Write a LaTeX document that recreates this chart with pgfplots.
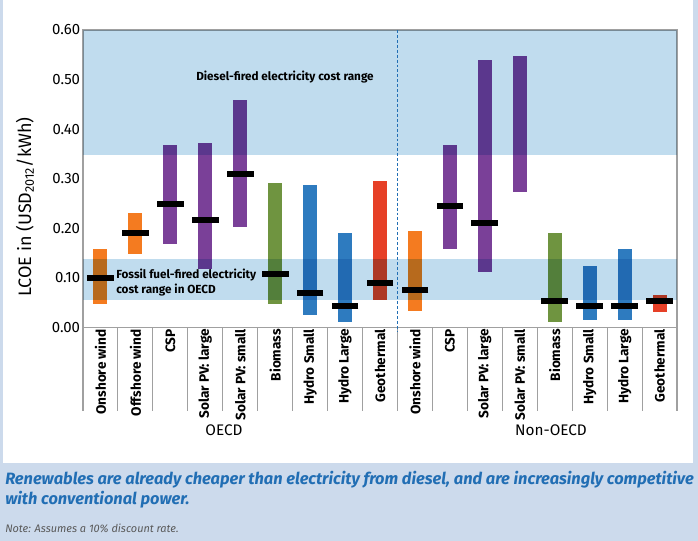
\documentclass[border=0pt]{standalone}
\usepackage{pgfplots}
\pgfplotsset{compat=1.18}
\usepackage{pgfplotstable}
\usepackage{fontspec}
\setmainfont{Fira Sans}
\definecolor{outerbg}{RGB}{204,218,236}
\definecolor{band}{RGB}{192,220,238}
\definecolor{corange}{RGB}{244,123,32}
\definecolor{cpurple}{RGB}{122,64,152}
\definecolor{cgreen}{RGB}{111,148,64}
\definecolor{cblue}{RGB}{46,123,191}
\definecolor{cred}{RGB}{230,64,39}
\definecolor{capblue}{RGB}{33,110,180}
\definecolor{framegray}{RGB}{160,160,160}

\pgfplotstableread{
x lo hi med
0 0.048 0.158 0.099
1 0.148 0.232 0.190
9 0.034 0.195 0.075
}\orangetab
\pgfplotstableread{
x lo hi med
2 0.168 0.368 0.249
3 0.118 0.372 0.216
4 0.203 0.459 0.310
10 0.158 0.368 0.246
11 0.112 0.540 0.210
12 0.273 0.548 nan
}\purpletab
\pgfplotstableread{
x lo hi med
5 0.048 0.291 0.109
13 0.011 0.191 0.053
}\greentab
\pgfplotstableread{
x lo hi med
6 0.025 0.287 0.070
7 0.012 0.191 0.044
14 0.015 0.124 0.044
15 0.016 0.158 0.044
}\bluetab
\pgfplotstableread{
x lo hi med
8 0.056 0.296 0.090
16 0.031 0.066 0.053
}\redtab

\pgfplotsset{
  rangebar/.style={draw=none, mark=none, error bars/.cd, y dir=both, y explicit, error mark=none,
    error bar style={draw=#1, line width=10.5pt}},
  medmark/.style={only marks, mark=-, mark size=10pt, mark options={line width=4.5pt, black, draw=black}},
}

\begin{document}
\begin{tikzpicture}[x=0.75pt,y=0.75pt]
\useasboundingbox (0,0) rectangle (698,541);
\fill[outerbg] (0,0) rectangle (698,541);
\fill[white] (3,78) rectangle (693,541);
\begin{axis}[
  at={(62.25pt,160.05pt)}, anchor=south west,
  scale only axis, width=445.5pt, height=223.2pt,
  xmin=-0.5, xmax=16.5, ymin=0, ymax=0.6,
  clip=false,
  axis line style={framegray, line width=0.8pt},
  tick pos=left,
  xtick={0,...,16},
  xticklabels={Onshore wind,Offshore wind,CSP,Solar PV: large,Solar PV: small,Biomass,Hydro Small,Hydro Large,Geothermal,Onshore wind,CSP,Solar PV: large,Solar PV: small,Biomass,Hydro Small,Hydro Large,Geothermal},
  xticklabel style={rotate=90, anchor=east, font=\fontsize{10.2}{12}\selectfont\bfseries, inner sep=1pt, yshift=0pt},
  major tick length=0pt,
  extra x ticks={-0.5,0.5,...,16.5},
  extra x tick labels={},
  extra x tick style={major tick length=62.5pt, tick align=outside, tick style={framegray, line width=0.8pt}},
  ytick={0,0.1,0.2,0.3,0.4,0.5,0.6},
  /pgf/number format/fixed,
  /pgf/number format/fixed zerofill,
  /pgf/number format/precision=2,
  /pgf/number format/assume math mode=true,
  yticklabel style={font=\fontsize{11.2}{13}\selectfont, inner sep=2pt},
]
% bars
\addplot[rangebar=corange] table[x=x, y expr=(\thisrow{lo}+\thisrow{hi})/2, y error expr=(\thisrow{hi}-\thisrow{lo})/2] {\orangetab};
\addplot[rangebar=cpurple] table[x=x, y expr=(\thisrow{lo}+\thisrow{hi})/2, y error expr=(\thisrow{hi}-\thisrow{lo})/2] {\purpletab};
\addplot[rangebar=cgreen] table[x=x, y expr=(\thisrow{lo}+\thisrow{hi})/2, y error expr=(\thisrow{hi}-\thisrow{lo})/2] {\greentab};
\addplot[rangebar=cblue] table[x=x, y expr=(\thisrow{lo}+\thisrow{hi})/2, y error expr=(\thisrow{hi}-\thisrow{lo})/2] {\bluetab};
\addplot[rangebar=cred] table[x=x, y expr=(\thisrow{lo}+\thisrow{hi})/2, y error expr=(\thisrow{hi}-\thisrow{lo})/2] {\redtab};
% bands
\addplot[fill=band, draw=none, blend mode=multiply] coordinates {(-0.5,0.347) (16.5,0.347) (16.5,0.6) (-0.5,0.6)} -- cycle;
\addplot[fill=band, draw=none, blend mode=multiply] coordinates {(-0.5,0.056) (16.5,0.056) (16.5,0.138) (-0.5,0.138)} -- cycle;
% medians
\addplot[medmark] table[x=x,y=med] {\orangetab};
\addplot[medmark] table[x=x,y=med] {\purpletab};
\addplot[medmark] table[x=x,y=med] {\greentab};
\addplot[medmark] table[x=x,y=med] {\bluetab};
\addplot[medmark] table[x=x,y=med] {\redtab};
\draw[capblue, line width=0.75pt, dash pattern=on 2.2pt off 1.5pt] (axis cs:8.5,0.6) -- (axis cs:8.5,-0.009);
\end{axis}
\node[rotate=90, font=\fontsize{13.5}{15}\selectfont] at (25,334) {LCOE in (USD\textsubscript{2012}/kWh)};
\node[anchor=west, font=\fontsize{8.8}{10.5}\selectfont\bfseries, inner sep=0pt] at (196,464) {Diesel-fired electricity cost range};
\node[anchor=west, align=left, font=\fontsize{8.8}{11.3}\selectfont\bfseries, inner sep=0pt] at (116,258.5) {Fossil fuel-fired electricity\\cost range in OECD};
\node[font=\fontsize{11.5}{13}\selectfont] at (224,111) {OECD};
\node[font=\fontsize{11.5}{13}\selectfont] at (551,111) {Non-OECD};
\node[anchor=west, align=left, inner sep=0pt, text=capblue, font=\fontsize{12.3}{15}\selectfont\bfseries\itshape] at (5,51) {Renewables are already cheaper than electricity from diesel, and are increasingly competitive\\with conventional power.};
\node[anchor=west, inner sep=0pt, text=black!65, font=\fontsize{8.2}{9}\selectfont\itshape] at (5,13) {Note: Assumes a 10\% discount rate.};
\end{tikzpicture}
\end{document}
